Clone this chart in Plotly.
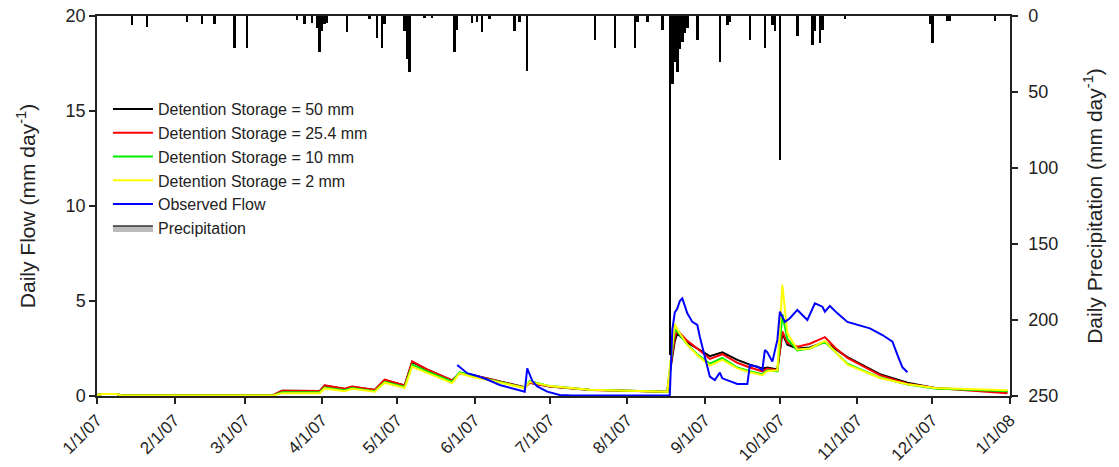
import pandas as pd
import plotly.graph_objects as go

# Day-of-year offsets (0 = 1 Jan 2007) for the simulated hydrographs
sim_days = [0, 2, 8, 10, 70, 74, 89, 91, 99, 102, 111, 115, 123, 126, 132, 142,
            145, 150, 156, 165, 171, 173, 181, 197, 228, 229, 231, 232, 236, 240,
            245, 250, 256, 261, 266, 268, 272, 274, 276, 280, 285, 291, 295, 300,
            313, 324, 335, 364]

flow_ds50 = [0.05, 0.1, 0.1, 0.02, 0.02, 0.28, 0.26, 0.55, 0.37, 0.48, 0.32, 0.84,
             0.55, 1.80, 1.38, 0.82, 1.20, 1.10, 0.92, 0.66, 0.46, 0.70, 0.50, 0.33,
             0.23, 1.20, 2.90, 3.30, 2.80, 2.50, 2.10, 2.30, 1.90, 1.65, 1.45, 1.50,
             1.40, 3.30, 2.70, 2.50, 2.55, 2.85, 2.50, 2.05, 1.15, 0.70, 0.42, 0.22]

flow_ds254 = [0.05, 0.1, 0.1, 0.02, 0.02, 0.28, 0.26, 0.56, 0.38, 0.50, 0.32, 0.86,
              0.56, 1.82, 1.40, 0.82, 1.20, 1.10, 0.92, 0.65, 0.45, 0.70, 0.50, 0.32,
              0.22, 1.30, 3.10, 3.45, 2.90, 2.50, 1.95, 2.20, 1.75, 1.50, 1.30, 1.45,
              1.35, 3.40, 2.80, 2.60, 2.75, 3.10, 2.55, 2.00, 1.10, 0.65, 0.42, 0.15]

flow_ds10 = [0.05, 0.1, 0.1, 0.02, 0.02, 0.20, 0.20, 0.45, 0.30, 0.42, 0.25, 0.75,
             0.48, 1.65, 1.30, 0.75, 1.25, 1.05, 0.88, 0.62, 0.44, 0.78, 0.52, 0.33,
             0.22, 1.40, 3.50, 3.40, 2.70, 2.20, 1.70, 2.00, 1.50, 1.30, 1.15, 1.35,
             1.30, 4.30, 3.00, 2.40, 2.50, 2.85, 2.35, 1.70, 0.97, 0.60, 0.40, 0.25]

flow_ds2 = [0.05, 0.1, 0.1, 0.02, 0.02, 0.15, 0.15, 0.40, 0.25, 0.38, 0.22, 0.70,
            0.42, 1.55, 1.22, 0.68, 1.20, 1.00, 0.85, 0.60, 0.42, 0.75, 0.52, 0.33,
            0.23, 1.50, 3.80, 3.50, 2.70, 2.15, 1.60, 1.90, 1.45, 1.25, 1.10, 1.30,
            1.35, 5.85, 3.30, 2.45, 2.50, 2.90, 2.35, 1.65, 0.95, 0.62, 0.42, 0.30]

# Observed stream flow (record starts late May, ends late November)
obs_days = [144, 148, 152, 156, 161, 171, 172, 174, 176, 180, 185, 190, 228, 229,
            230, 231, 232, 233, 234, 236, 238, 240, 241, 243, 245, 247, 249, 250,
            256, 260, 261, 264, 266, 267, 268, 270, 272, 273, 274, 275, 277, 280,
            284, 287, 290, 291, 293, 296, 300, 306, 309, 314, 318, 320, 322, 324]
obs_flow = [1.63, 1.20, 1.05, 0.87, 0.58, 0.23, 1.45, 0.80, 0.50, 0.23, 0.05, 0.02,
            0.02, 0.05, 3.50, 4.40, 4.60, 5.00, 5.14, 4.35, 3.90, 3.74, 3.12, 2.07,
            1.02, 0.84, 1.23, 0.93, 0.63, 0.63, 1.63, 1.54, 1.37, 2.42, 2.30, 1.81,
            2.95, 4.44, 4.18, 3.90, 4.09, 4.53, 4.00, 4.88, 4.70, 4.44, 4.74, 4.35,
            3.90, 3.65, 3.56, 3.21, 2.86, 2.16, 1.51, 1.25]

# Daily precipitation events
precip_days = [14, 20, 36, 42, 47, 55, 60, 80, 83, 86, 88, 89, 90, 91, 92, 100, 109,
               112, 114, 115, 123, 124, 125, 131, 134, 143, 144, 150, 152, 154, 157,
               167, 169, 172, 199, 207, 215, 216, 220, 226, 229, 230, 231, 232, 233,
               234, 235, 236, 240, 249, 252, 253, 261, 267, 270, 271, 273, 280, 286,
               287, 289, 290, 299, 333, 334, 340, 341, 359]
precip_mm = [6, 7.5, 4, 5, 5, 21, 21, 2.5, 5, 4.5, 8, 24, 10, 5, 4.5, 10.5, 2,
             14.5, 21, 5, 10, 28, 37, 1, 1, 24, 9, 4.5, 4, 10.5, 2,
             10, 4, 36.5, 16, 21, 21, 4, 4, 9, 223, 45, 30, 37, 22,
             17, 11, 8, 16, 30, 6, 4, 16, 21, 6, 10, 95, 13, 19,
             10, 17.5, 9, 2, 5, 17.5, 3, 3, 3]

tick_labels = ["1/1/07", "2/1/07", "3/1/07", "4/1/07", "5/1/07", "6/1/07", "7/1/07",
               "8/1/07", "9/1/07", "10/1/07", "11/1/07", "12/1/07", "1/1/08"]

start = pd.Timestamp("2007-01-01")


def to_dates(days):
    return [start + pd.Timedelta(days=d) for d in days]


FONT = "Arial, Liberation Sans, sans-serif"
INK = "#222222"

fig = go.Figure()

# Precipitation hangs from the top on the reversed right-hand axis
fig.add_trace(go.Bar(
    x=to_dates(precip_days), y=precip_mm, yaxis="y2",
    marker=dict(color="black", line=dict(width=0)),
    width=1.0 * 86400000, showlegend=False, name="Precipitation",
))

series = [
    ("Detention Storage = 50 mm", flow_ds50, "#000000"),
    ("Detention Storage = 25.4 mm", flow_ds254, "#ff0000"),
    ("Detention Storage = 10 mm", flow_ds10, "#00ee00"),
    ("Detention Storage = 2 mm", flow_ds2, "#ffff00"),
]
for name, vals, color in series:
    fig.add_trace(go.Scatter(
        x=to_dates(sim_days), y=vals, mode="lines", name=name,
        line=dict(color=color, width=2),
    ))

fig.add_trace(go.Scatter(
    x=to_dates(obs_days), y=obs_flow, mode="lines", name="Observed Flow",
    line=dict(color="#0000ff", width=2),
))

# Legend swatch for precipitation: a grey filled box with a dark outline
fig.add_trace(go.Scatter(
    x=[None], y=[None], yaxis="y2", name="Precipitation", mode="lines",
    fill="toself", fillcolor="#bbbbbb", line=dict(color="#333333", width=1.5),
))

tick_dates = [start + pd.DateOffset(months=m) for m in range(13)]

fig.update_layout(
    width=1119, height=467,
    margin=dict(l=97, r=109, t=16, b=71),
    paper_bgcolor="white", plot_bgcolor="white",
    font=dict(family=FONT, color=INK),
    bargap=0,
    xaxis=dict(
        range=[start, pd.Timestamp("2008-01-01")],
        tickvals=tick_dates, ticktext=tick_labels, tickangle=-45,
        ticks="outside", ticklen=6, tickwidth=1.5, tickcolor=INK,
        showline=True, linecolor=INK, linewidth=1.5, mirror=True,
        showgrid=False, zeroline=False, automargin=False,
        tickfont=dict(size=17, family=FONT, color=INK),
    ),
    yaxis=dict(
        range=[0, 20], tickvals=[0, 5, 10, 15, 20],
        ticks="outside", ticklen=6, tickwidth=1.5, tickcolor=INK,
        showline=True, linecolor=INK, linewidth=1.5,
        showgrid=False, zeroline=False, automargin=False,
        tickfont=dict(size=18, family=FONT, color=INK),
        title=dict(text="Daily Flow (mm day<sup>-1</sup>)",
                   font=dict(size=21, family=FONT, color=INK), standoff=24),
    ),
    yaxis2=dict(
        range=[250, 0], overlaying="y", side="right",
        tickvals=[0, 50, 100, 150, 200, 250],
        ticks="outside", ticklen=6, tickwidth=1.5, tickcolor=INK,
        showline=True, linecolor=INK, linewidth=1.5,
        showgrid=False, zeroline=False, automargin=False,
        ticklabelstandoff=7,
        tickfont=dict(size=18, family=FONT, color=INK),
        title=dict(text="Daily Precipitation (mm day<sup>-1</sup>)",
                   font=dict(size=21, family=FONT, color=INK), standoff=30),
    ),
    legend=dict(
        x=0.012, y=0.80, xanchor="left", yanchor="top",
        bgcolor="rgba(0,0,0,0)", font=dict(size=16, family=FONT, color=INK),
        traceorder="normal", tracegroupgap=0, itemwidth=40,
    ),
)

fig.write_html("out.html")
